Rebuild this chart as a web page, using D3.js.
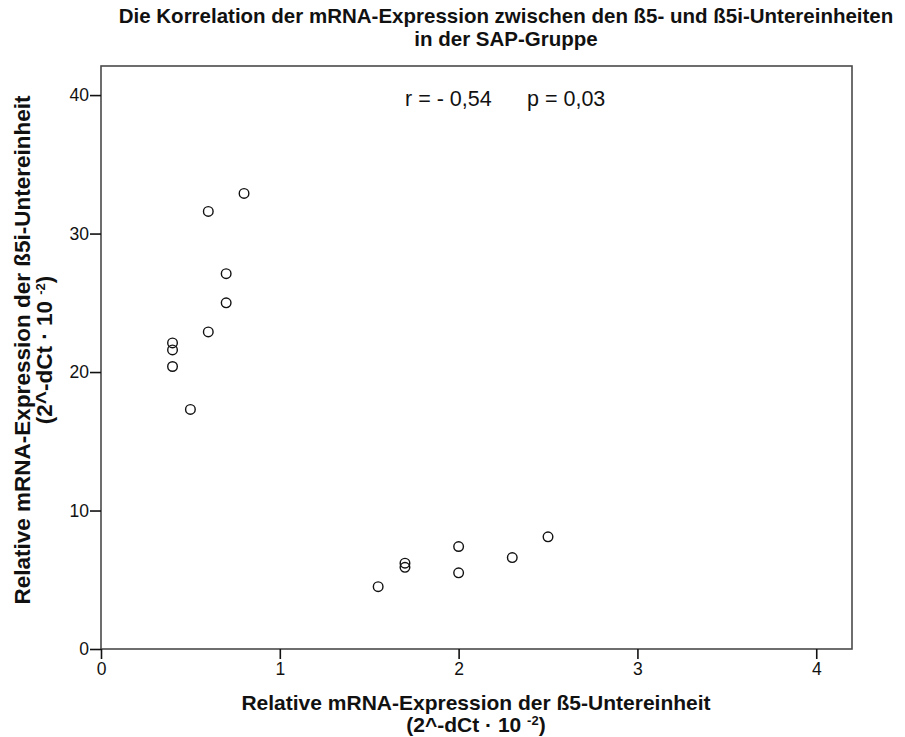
<!DOCTYPE html>
<html>
<head>
<meta charset="utf-8">
<script src="https://cdn.jsdelivr.net/npm/d3@7"></script>
<style>
  html, body { margin: 0; padding: 0; background: #fff; }
  svg { display: block; font-family: "Liberation Sans", Arial, sans-serif; }
</style>
</head>
<body>
<svg id="chart" width="905" height="737"></svg>
<script>
// Relative mRNA expression (2^-dCt · 10^-2) per sample, SAP group
const beta5  = [0.80, 0.60, 0.70, 0.70, 0.60, 0.40, 0.40, 0.40, 0.50, 1.70, 1.70, 2.00, 2.00, 2.30, 2.50, 1.55];
const beta5i = [32.9, 31.6, 27.1, 25.0, 22.9, 22.1, 21.6, 20.4, 17.3, 6.2, 5.9, 7.4, 5.5, 6.6, 8.1, 4.5];
const xTicks = [0, 1, 2, 3, 4];
const yTicks = [0, 10, 20, 30, 40];
const titleLines = ["Die Korrelation der mRNA-Expression zwischen den ß5- und ß5i-Untereinheiten", "in der SAP-Gruppe"];
const statsText = ["r = - 0,54", "p = 0,03"];

const svg = d3.select("#chart");
const plot = { left: 101, right: 852, top: 66, bottom: 649 };

const x = d3.scaleLinear().domain([0, 4.2]).range([plot.left, plot.right]);
const y = d3.scaleLinear().domain([0, 42.1]).range([plot.bottom, plot.top]);

const ink = "#111";
const frame = "#4a4a4a";

// Title
svg.append("g").selectAll("text").data(titleLines).join("text")
  .attr("x", 506).attr("y", (d, i) => 23 + i * 23)
  .attr("text-anchor", "middle")
  .attr("font-size", 20.5).attr("font-weight", "bold").attr("fill", ink)
  .text(d => d);

// Plot frame
svg.append("rect")
  .attr("x", plot.left).attr("y", plot.top)
  .attr("width", plot.right - plot.left).attr("height", plot.bottom - plot.top)
  .attr("fill", "none").attr("stroke", frame).attr("stroke-width", 1.6);

// Axes
const xAxis = svg.append("g").attr("transform", `translate(0,${plot.bottom})`)
  .call(d3.axisBottom(x).tickValues(xTicks).tickSize(10).tickPadding(4).tickFormat(d3.format("d")));
const yAxis = svg.append("g").attr("transform", `translate(${plot.left},0)`)
  .call(d3.axisLeft(y).tickValues(yTicks).tickSize(11).tickPadding(1).tickFormat(d3.format("d")));
[xAxis, yAxis].forEach(a => {
  a.select(".domain").remove();
  a.selectAll(".tick line").attr("stroke", ink).attr("stroke-width", 1.6);
  a.selectAll(".tick text").attr("font-size", 17.5).attr("fill", ink)
    .attr("font-family", "Liberation Sans, Arial, sans-serif");
});

// Correlation annotation
svg.append("text").attr("x", 405).attr("y", 106)
  .attr("font-size", 21.5).attr("fill", ink).text(statsText[0]);
svg.append("text").attr("x", 527).attr("y", 106)
  .attr("font-size", 21.5).attr("fill", ink).text(statsText[1]);

// Scatter points
const pts = beta5.map((v, i) => ({ x: v, y: beta5i[i] }));
svg.append("g").selectAll("circle").data(pts).join("circle")
  .attr("cx", d => x(d.x)).attr("cy", d => y(d.y)).attr("r", 4.8)
  .attr("fill", "none").attr("stroke", ink).attr("stroke-width", 1.4);

// Axis titles with a superscript exponent
function unitLabel(sel) {
  sel.append("tspan").text("(2^-dCt · 10 ");
  sel.append("tspan").attr("dy", -7).attr("font-size", 13).text("-2");
  sel.append("tspan").attr("dy", 7).text(")");
}

const xl = svg.append("g").attr("font-size", 21).attr("font-weight", "bold").attr("fill", ink)
  .attr("text-anchor", "middle");
xl.append("text").attr("x", 476).attr("y", 710)
  .text("Relative mRNA-Expression der ß5-Untereinheit");
xl.append("text").attr("x", 476).attr("y", 732).call(unitLabel);

const cy = 350;
const yl = svg.append("g").attr("font-size", 22.5).attr("font-weight", "bold").attr("fill", ink)
  .attr("text-anchor", "middle");
yl.append("text").attr("transform", `translate(30,${cy}) rotate(-90)`)
  .text("Relative mRNA-Expression der ß5i-Untereinheit");
yl.append("text").attr("transform", `translate(52,${cy}) rotate(-90)`).call(unitLabel);
</script>
</body>
</html>
